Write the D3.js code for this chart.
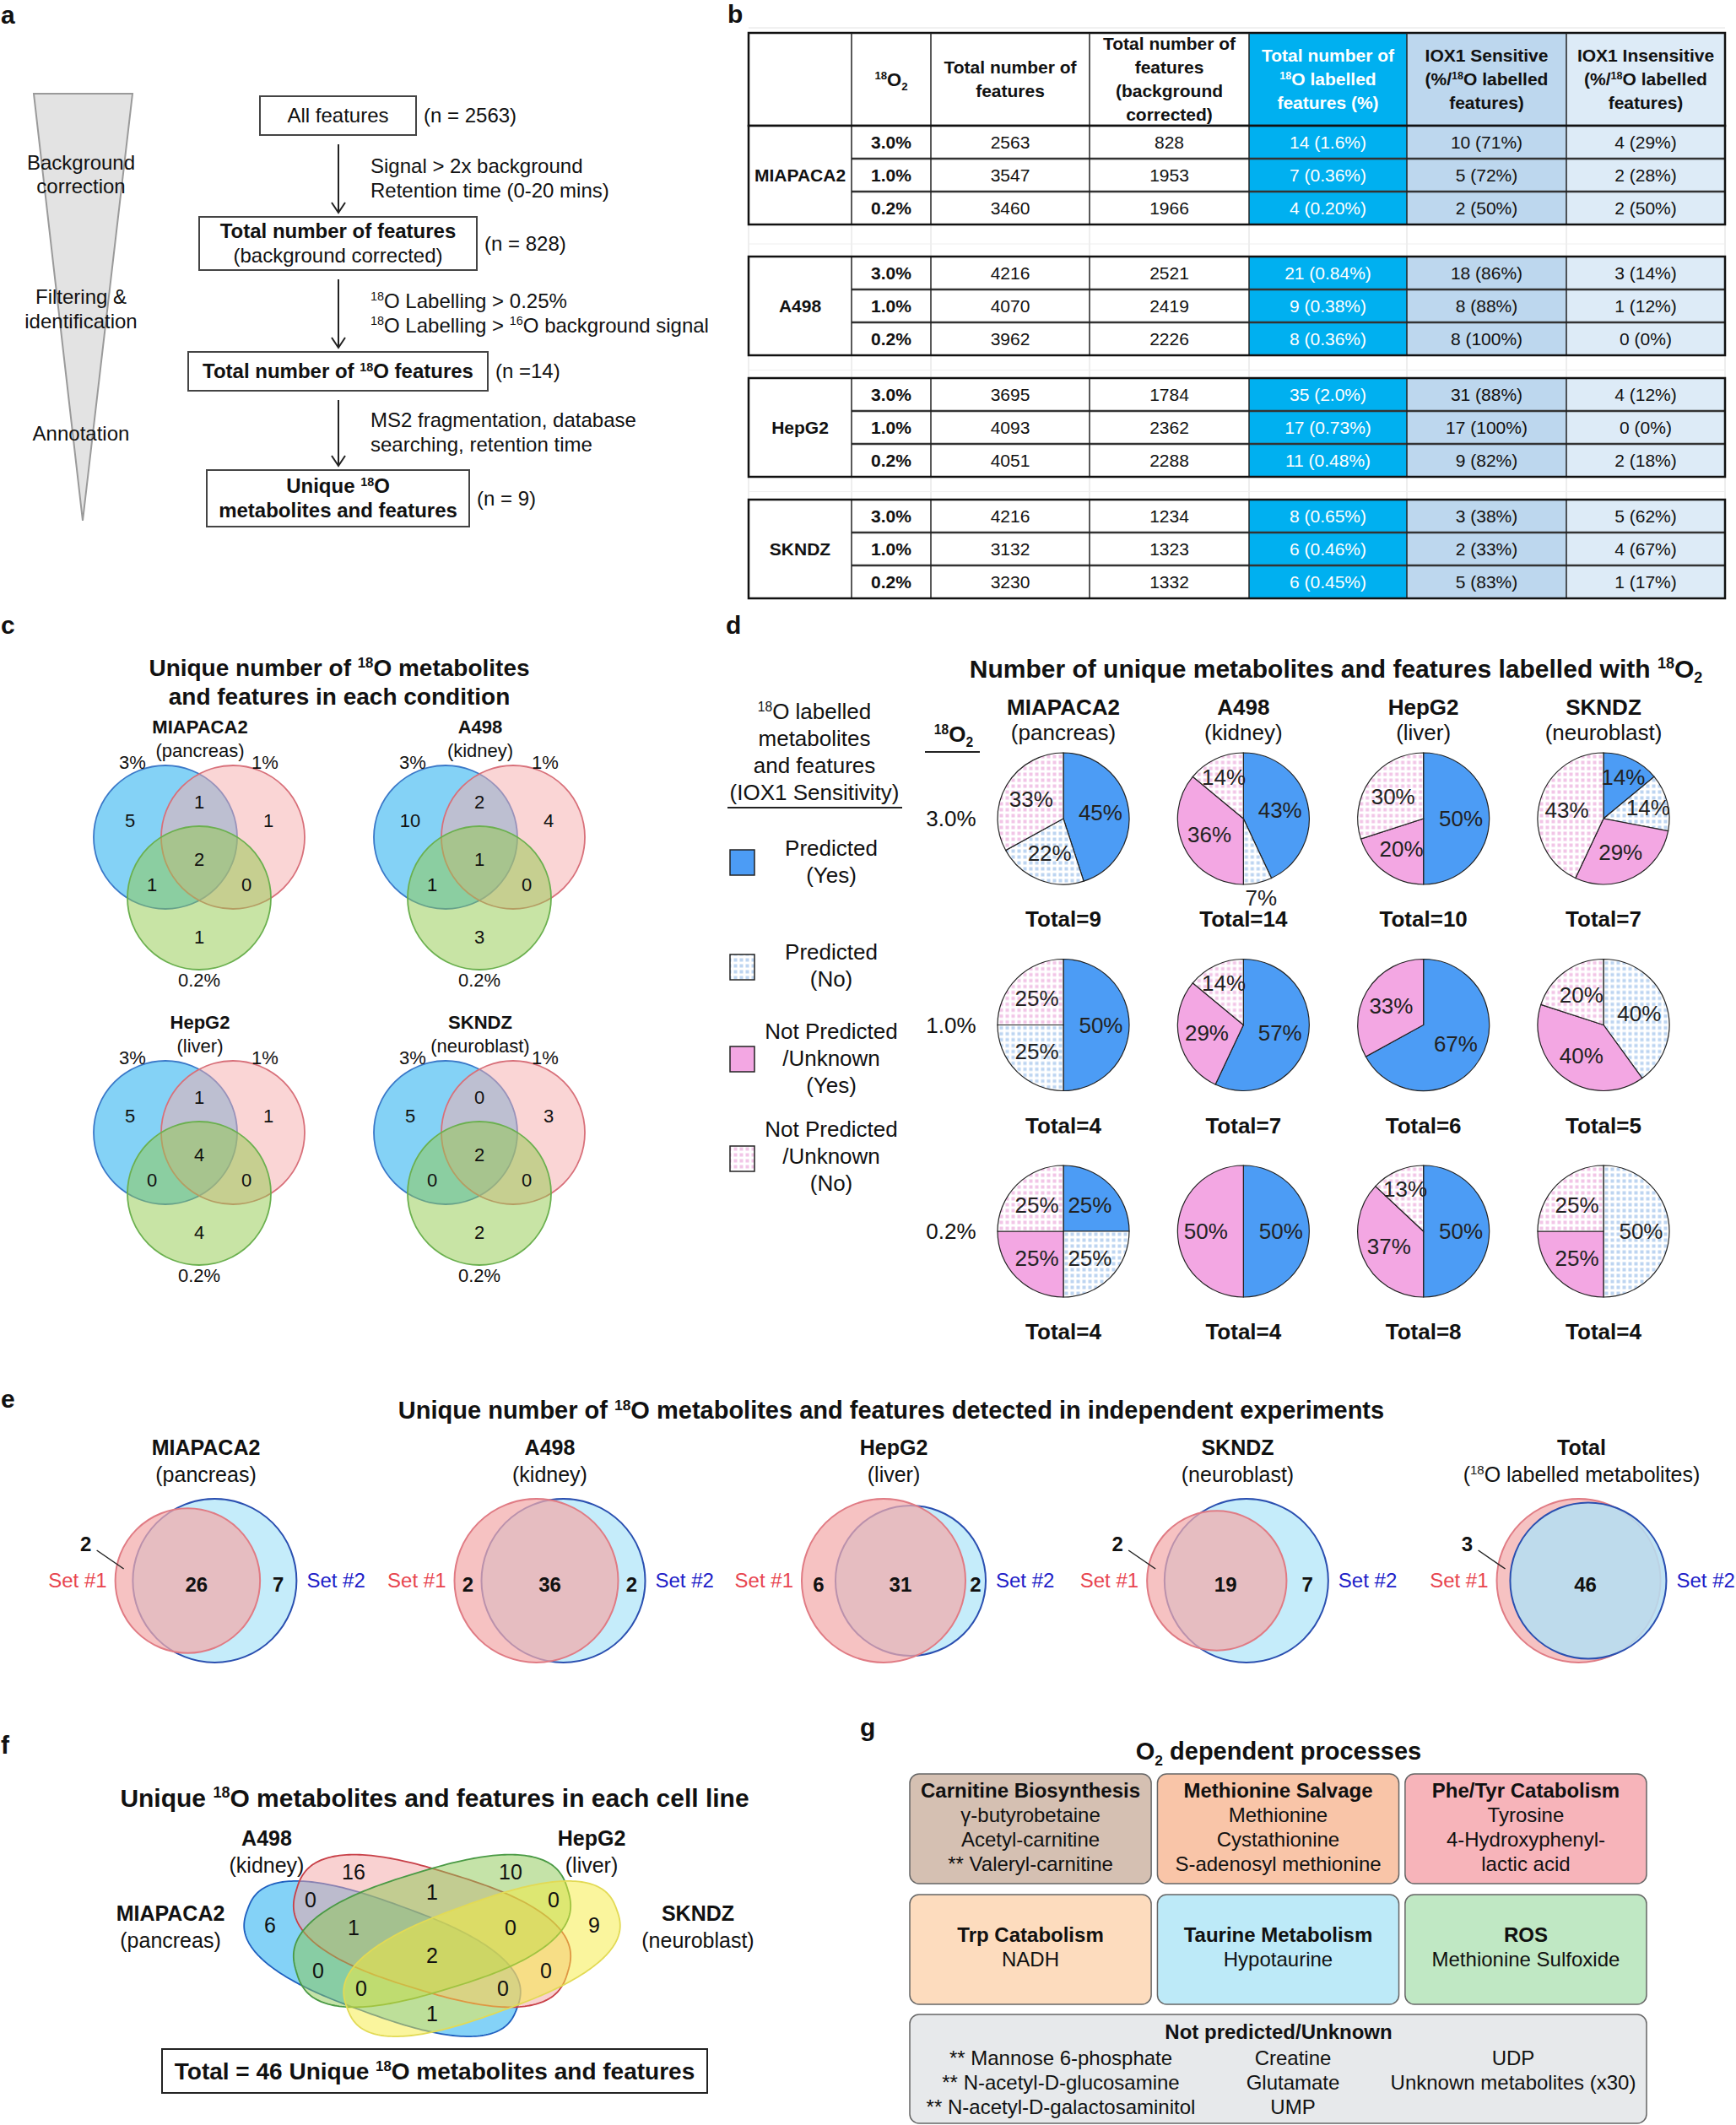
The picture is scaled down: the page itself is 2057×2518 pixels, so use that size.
<!DOCTYPE html>
<html>
<head>
<meta charset="utf-8">
<script src="https://cdn.jsdelivr.net/npm/d3@7"></script>
<style>
  body { margin: 0; background: #fff; }
  svg { display: block; font-family: "Liberation Sans", Arial, Helvetica, sans-serif; }
</style>
</head>
<body>
<div id="chart"></div>
<script>
// ---------------- data ----------------
// a: workflow
var flowBoxes = [['All features'], ['Total number of features', '(background corrected)'], ['Total number of ^{18}O features'], ['Unique ^{18}O', 'metabolites and features']]
var flowCounts = ['(n = 2563)', '(n = 828)', '(n =14)', '(n = 9)']
var flowCriteria = [['Signal > 2x background', 'Retention time (0-20 mins)'], ['^{18}O Labelling > 0.25%', '^{18}O Labelling > ^{16}O background signal'], ['MS2 fragmentation, database', 'searching, retention time']]
var flowStages = [['Background', 'correction'], ['Filtering &', 'identification'], ['Annotation']]

// b: table
var cellLines = ['MIAPACA2', 'A498', 'HepG2', 'SKNDZ']
var tissues = ['(pancreas)', '(kidney)', '(liver)', '(neuroblast)']
var o2Levels = ['3.0%', '1.0%', '0.2%']
var totalFeatures = [[2563, 3547, 3460], [4216, 4070, 3962], [3695, 4093, 4051], [4216, 3132, 3230]]
var correctedFeatures = [[828, 1953, 1966], [2521, 2419, 2226], [1784, 2362, 2288], [1234, 1323, 1332]]
var labelledCount = [[14, 7, 4], [21, 9, 8], [35, 17, 11], [8, 6, 6]]
var labelledPct = [['1.6%', '0.36%', '0.20%'], ['0.84%', '0.38%', '0.36%'], ['2.0%', '0.73%', '0.48%'], ['0.65%', '0.46%', '0.45%']]
var sensitiveCount = [[10, 5, 2], [18, 8, 8], [31, 17, 9], [3, 2, 5]]
var sensitivePct = [['71%', '72%', '50%'], ['86%', '88%', '100%'], ['88%', '100%', '82%'], ['38%', '33%', '83%']]
var insensitiveCount = [[4, 2, 2], [3, 1, 0], [4, 0, 2], [5, 4, 1]]
var insensitivePct = [['29%', '28%', '50%'], ['14%', '12%', '0%'], ['12%', '0%', '18%'], ['62%', '67%', '17%']]

// c: 3-set venn per cell line (A = 3%, B = 1%, C = 0.2%)
var venn3Keys = ['A', 'B', 'C', 'AB', 'AC', 'BC', 'ABC']
var venn3Counts = [[5, 1, 1, 1, 1, 0, 2], [10, 4, 3, 2, 1, 0, 1], [5, 1, 4, 1, 0, 0, 4], [5, 3, 2, 0, 0, 0, 2]]
var venn3SetLabels = ['3%', '1%', '0.2%']

// d: pies (% per category) and totals
var pieCategories = ['Predicted (Yes)', 'Predicted (No)', 'Not Predicted /Unknown (Yes)', 'Not Predicted /Unknown (No)']
var piePct = [
  [[45, 22, 0, 33], [50, 25, 0, 25], [25, 25, 25, 25]],
  [[43, 7, 36, 14], [57, 0, 29, 14], [50, 0, 50, 0]],
  [[50, 0, 20, 30], [67, 0, 33, 0], [50, 0, 37, 13]],
  [[14, 14, 29, 43], [0, 40, 40, 20], [0, 50, 25, 25]]
]
var pieTotals = [[9, 4, 4], [14, 7, 4], [10, 6, 8], [7, 5, 4]]

// e: two independent experiments
var expNames = ['MIAPACA2', 'A498', 'HepG2', 'SKNDZ', 'Total']
var expSubs = ['(pancreas)', '(kidney)', '(liver)', '(neuroblast)', '(^{18}O labelled metabolites)']
var set1Only = [2, 2, 6, 2, 3]
var setShared = [26, 36, 31, 19, 46]
var set2Only = [7, 2, 2, 7, 0]

// f: 4-set venn (M = MIAPACA2, A = A498, H = HepG2, S = SKNDZ)
var quadKeys = ['M', 'A', 'H', 'S', 'MA', 'AH', 'HS', 'MAH', 'AHS', 'MH', 'AS', 'MAHS', 'MHS', 'MAS', 'MS']
var quadCounts = [6, 16, 10, 9, 0, 1, 0, 1, 0, 0, 0, 2, 0, 0, 1]
var quadTotal = 46

// g: processes
var processNames = ['Carnitine Biosynthesis', 'Methionine Salvage', 'Phe/Tyr Catabolism', 'Trp Catabolism', 'Taurine Metabolism', 'ROS']
var processMetabolites = [['γ-butyrobetaine', 'Acetyl-carnitine', '** Valeryl-carnitine'], ['Methionine', 'Cystathionine', 'S-adenosyl methionine'], ['Tyrosine', '4-Hydroxyphenyl-', 'lactic acid'], ['NADH'], ['Hypotaurine'], ['Methionine Sulfoxide']]
var unknownCols = [['** Mannose 6-phosphate', '** N-acetyl-D-glucosamine', '** N-acetyl-D-galactosaminitol'], ['Creatine', 'Glutamate', 'UMP'], ['UDP', 'Unknown metabolites (x30)']]

// ---------------- helpers ----------------
var W = 2057, H = 2518
var svg = d3.select('#chart').append('svg').attr('width', W).attr('height', H)
svg.append('rect').attr('width', W).attr('height', H).attr('fill', '#fff')

// text with ^{sup} and _{sub} markup, y = baseline
function txt (parent, x, y, str, size, opt) {
  opt = opt || {}
  var t = parent.append('text').attr('x', x).attr('y', y)
    .attr('font-size', size)
    .attr('text-anchor', opt.anchor || 'middle')
    .attr('fill', opt.color || '#111')
  if (opt.bold) t.attr('font-weight', 'bold')
  var parts = str.split(/(\^\{[^}]*\}|_\{[^}]*\})/).filter(function (s) { return s.length })
  var shift = 0
  parts.forEach(function (p) {
    var target = 0, s = p, small = false
    if (p.indexOf('^{') === 0) { target = -0.36 * size; s = p.slice(2, -1); small = true }
    else if (p.indexOf('_{') === 0) { target = 0.22 * size; s = p.slice(2, -1); small = true }
    var ts = t.append('tspan').text(s)
    if (target - shift !== 0) ts.attr('dy', target - shift)
    if (small) ts.attr('font-size', size * 0.6)
    shift = target
  })
  return t
}
// same, y = visual centre
function txtC (parent, x, yc, str, size, opt) { return txt(parent, x, yc + 0.35 * size, str, size, opt) }

// best label spot per region: point with max distance to every boundary
function regionSpots (shapes, x0, y0, x1, y1, step) {
  var best = {}
  for (var y = y0; y <= y1; y += step) {
    for (var x = x0; x <= x1; x += step) {
      var k = '', m = Infinity
      shapes.forEach(function (s) {
        if (s.inside(x, y)) k += s.key
        m = Math.min(m, s.dist(x, y))
      })
      if (!k) continue
      if (!best[k] || m > best[k].m) best[k] = { x: x, y: y, m: m }
    }
  }
  return best
}
function circleShape (key, cx, cy, r) {
  return {
    key: key,
    inside: function (x, y) { return (x - cx) * (x - cx) + (y - cy) * (y - cy) < r * r },
    dist: function (x, y) { return Math.abs(Math.hypot(x - cx, y - cy) - r) }
  }
}
// rotated superellipse |u/a|^n + |v/b|^n = 1 (capsule-like for n > 2)
function blobShape (key, cx, cy, a, b, deg, n) {
  var th = deg * Math.PI / 180, c = Math.cos(th), s = Math.sin(th)
  var pts = d3.range(0, 2 * Math.PI, Math.PI / 120).map(function (t) {
    var ct = Math.cos(t), st = Math.sin(t)
    var u = a * Math.sign(ct) * Math.pow(Math.abs(ct), 2 / n), v = b * Math.sign(st) * Math.pow(Math.abs(st), 2 / n)
    return [cx + u * c - v * s, cy + u * s + v * c]
  })
  return {
    key: key,
    pts: pts,
    inside: function (x, y) {
      var dx = x - cx, dy = y - cy, u = dx * c + dy * s, v = -dx * s + dy * c
      return Math.pow(Math.abs(u / a), n) + Math.pow(Math.abs(v / b), n) < 1
    },
    dist: function (x, y) {
      var m = Infinity
      for (var i = 0; i < pts.length; i++) m = Math.min(m, (pts[i][0] - x) * (pts[i][0] - x) + (pts[i][1] - y) * (pts[i][1] - y))
      return Math.sqrt(m)
    }
  }
}

// panel letters
;[['a', 1, 28], ['b', 862, 27], ['c', 1, 751], ['d', 860, 751], ['e', 1, 1668], ['f', 1, 2078], ['g', 1019, 2057]].forEach(function (p) {
  txt(svg, p[1], p[2], p[0], 30, { bold: true, anchor: 'start' })
})

// ---------------- panel a ----------------
var ga = svg.append('g')
ga.append('path').attr('d', 'M40,111L157,111L98,617Z').attr('fill', '#e3e3e3').attr('stroke', '#9a9a9a').attr('stroke-width', 2)
var stageY = [[193, 221], [352, 381], [514]]
flowStages.forEach(function (lines, i) {
  lines.forEach(function (l, j) { txtC(ga, 96, stageY[i][j], l, 24) })
})
var boxGeom = [[308, 114, 493, 160], [236, 257, 565, 320], [223, 417, 578, 463], [245, 557, 556, 624]]
var boxBold = [[false], [true, false], [true], [true, true]]
flowBoxes.forEach(function (lines, i) {
  var b = boxGeom[i], cy = (b[1] + b[3]) / 2, cx = (b[0] + b[2]) / 2
  ga.append('rect').attr('x', b[0]).attr('y', b[1]).attr('width', b[2] - b[0]).attr('height', b[3] - b[1])
    .attr('fill', '#fff').attr('stroke', '#444').attr('stroke-width', 2)
  lines.forEach(function (l, j) {
    txtC(ga, cx, cy + (j - (lines.length - 1) / 2) * 29, l, 24, { bold: boxBold[i][j] })
  })
  txtC(ga, b[2] + 9, cy, flowCounts[i], 24, { anchor: 'start' })
  if (i < 3) {
    var y0 = b[3] + 11, y1 = boxGeom[i + 1][1] - 5
    ga.append('line').attr('x1', 401).attr('x2', 401).attr('y1', y0).attr('y2', y1).attr('stroke', '#222').attr('stroke-width', 2)
    ga.append('polyline').attr('points', [[393, y1 - 12], [401, y1], [409, y1 - 12]].join(' '))
      .attr('fill', 'none').attr('stroke', '#222').attr('stroke-width', 2)
    flowCriteria[i].forEach(function (l, j) {
      txtC(ga, 439, (y0 + y1) / 2 - 15 + j * 29, l, 24, { anchor: 'start' })
    })
  }
})

// ---------------- panel b ----------------
var gb = svg.append('g')
var colX = [887, 1009, 1103, 1291, 1480, 1667, 1856, 2044]
var headTop = 39, headBot = 149, rowH = 39
var groupTop = [149, 304, 448, 592]
var colFill = ['#fff', '#fff', '#fff', '#fff', '#00b0f0', '#bdd7ee', '#ddebf7']
var colText = ['#111', '#111', '#111', '#111', '#fff', '#111', '#111']
var headLines = [[], ['^{18}O_{2}'], ['Total number of', 'features'], ['Total number of', 'features', '(background', 'corrected)'],
  ['Total number of', '^{18}O labelled', 'features (%)'], ['IOX1 Sensitive', '(%/^{18}O labelled', 'features)'], ['IOX1 Insensitive', '(%/^{18}O labelled', 'features)']]
// faint spreadsheet grid
gb.append('line').attr('x1', colX[0]).attr('x2', colX[7]).attr('y1', 33).attr('y2', 33).attr('stroke', '#e2e2e2')
groupTop.forEach(function (gt, g) {
  if (g === 0) return
  var top = groupTop[g - 1] + 3 * rowH
  colX.forEach(function (x) {
    gb.append('line').attr('x1', x).attr('x2', x).attr('y1', top).attr('y2', gt).attr('stroke', '#dcdcdc')
  })
  gb.append('line').attr('x1', colX[0]).attr('x2', colX[7]).attr('y1', (top + gt) / 2 + 4).attr('y2', (top + gt) / 2 + 4).attr('stroke', '#eeeeee')
})
// header
d3.range(7).forEach(function (c) {
  gb.append('rect').attr('x', colX[c]).attr('y', headTop).attr('width', colX[c + 1] - colX[c]).attr('height', headBot - headTop).attr('fill', colFill[c])
  var lines = headLines[c], mid = (headTop + headBot) / 2
  lines.forEach(function (l, j) {
    txtC(gb, (colX[c] + colX[c + 1]) / 2, mid + (j - (lines.length - 1) / 2) * 28, l, c === 1 ? 22 : 21, { bold: true, color: colText[c] })
  })
})
gb.append('rect').attr('x', colX[0]).attr('y', headTop).attr('width', colX[7] - colX[0]).attr('height', headBot - headTop)
  .attr('fill', 'none').attr('stroke', '#111').attr('stroke-width', 2.5)
colX.slice(1, 7).forEach(function (x) {
  gb.append('line').attr('x1', x).attr('x2', x).attr('y1', headTop).attr('y2', headBot).attr('stroke', '#222').attr('stroke-width', 1.5)
})
// groups
cellLines.forEach(function (name, g) {
  var gt = groupTop[g]
  o2Levels.forEach(function (lev, r) {
    var y = gt + r * rowH
    var vals = [null, lev, totalFeatures[g][r], correctedFeatures[g][r],
      labelledCount[g][r] + ' (' + labelledPct[g][r] + ')',
      sensitiveCount[g][r] + ' (' + sensitivePct[g][r] + ')',
      insensitiveCount[g][r] + ' (' + insensitivePct[g][r] + ')']
    d3.range(7).forEach(function (c) {
      gb.append('rect').attr('x', colX[c]).attr('y', y).attr('width', colX[c + 1] - colX[c]).attr('height', rowH).attr('fill', colFill[c])
      if (vals[c] !== null) txtC(gb, (colX[c] + colX[c + 1]) / 2, y + rowH / 2, String(vals[c]), 21, { bold: c === 1, color: colText[c] })
    })
  })
  txtC(gb, (colX[0] + colX[1]) / 2, gt + 1.5 * rowH, name, 21, { bold: true })
  ;[1, 2].forEach(function (r) {
    gb.append('line').attr('x1', colX[1]).attr('x2', colX[7]).attr('y1', gt + r * rowH).attr('y2', gt + r * rowH).attr('stroke', '#333').attr('stroke-width', 2.5)
  })
  colX.slice(1, 7).forEach(function (x) {
    gb.append('line').attr('x1', x).attr('x2', x).attr('y1', gt).attr('y2', gt + 3 * rowH).attr('stroke', '#222').attr('stroke-width', 1.5)
  })
  gb.append('rect').attr('x', colX[0]).attr('y', gt).attr('width', colX[7] - colX[0]).attr('height', 3 * rowH)
    .attr('fill', 'none').attr('stroke', '#111').attr('stroke-width', 2.5)
})

// ---------------- panel c ----------------
var gc = svg.append('g')
txtC(gc, 402, 791, 'Unique number of ^{18}O metabolites', 28, { bold: true })
txtC(gc, 402, 825, 'and features in each condition', 28, { bold: true })
var vx = d3.scalePoint().domain([0, 1]).range([236, 568])
var vy = d3.scalePoint().domain([0, 1]).range([1016, 1366])
var c3Off = [[-40, -24], [40, -24], [0, 48]], c3R = 85
var c3Fill = ['#0aa6ee', '#f5acac', '#91c94b'], c3Stroke = ['#3a78c8', '#d8707a', '#6bb04f']
var c3LabOff = [[-79, -113], [78, -113], [0, 145]]
cellLines.forEach(function (name, i) {
  var cx = vx(i % 2), cy = vy(Math.floor(i / 2))
  txtC(gc, cx + 1, cy - 155, name, 22, { bold: true })
  txtC(gc, cx + 1, cy - 127, tissues[i], 22)
  var shapes = c3Off.map(function (o, k) {
    gc.append('circle').attr('cx', cx + o[0]).attr('cy', cy + o[1]).attr('r', c3R)
      .attr('fill', c3Fill[k]).attr('fill-opacity', 0.5).attr('stroke', c3Stroke[k]).attr('stroke-width', 1.8)
    txtC(gc, cx + c3LabOff[k][0], cy + c3LabOff[k][1], venn3SetLabels[k], 22)
    return circleShape('ABC'[k], cx + o[0], cy + o[1], c3R)
  })
  var spots = regionSpots(shapes, cx - 140, cy - 120, cx + 140, cy + 140, 2)
  venn3Keys.forEach(function (k, j) {
    if (spots[k]) txtC(gc, spots[k].x, spots[k].y, String(venn3Counts[i][j]), 22)
  })
})

// ---------------- panel d ----------------
var gd = svg.append('g')
var defs = svg.append('defs')
function dotPattern (id, col) {
  var p = defs.append('pattern').attr('id', id).attr('width', 7).attr('height', 7).attr('patternUnits', 'userSpaceOnUse')
  p.append('rect').attr('width', 7).attr('height', 7).attr('fill', '#fff')
  p.append('rect').attr('x', 1.5).attr('y', 1.5).attr('width', 4).attr('height', 4).attr('fill', col)
}
dotPattern('dotBlue', '#bed5f1')
dotPattern('dotPink', '#f2c6e7')
var pieFill = ['#4c9cf5', 'url(#dotBlue)', '#f3a7e3', 'url(#dotPink)']
var pieR = 78
var px = d3.scalePoint().domain(cellLines).range([1260, 1900])
var py = d3.scalePoint().domain(o2Levels).range([970, 1459])
txtC(gd, 1583, 792, 'Number of unique metabolites and features labelled with ^{18}O_{2}', 30, { bold: true })
// legend
;['^{18}O labelled', 'metabolites', 'and features', '(IOX1 Sensitivity)'].forEach(function (l, j) {
  txtC(gd, 965, 843 + j * 32, l, 26)
})
gd.append('line').attr('x1', 862).attr('x2', 1069).attr('y1', 957).attr('y2', 957).attr('stroke', '#222').attr('stroke-width', 2)
var legTop = [1007, 1131, 1240, 1358]
var legLines = [['Predicted', '(Yes)'], ['Predicted', '(No)'], ['Not Predicted', '/Unknown', '(Yes)'], ['Not Predicted', '/Unknown', '(No)']]
var legTextY = [1005, 1128, 1222, 1338]
pieCategories.forEach(function (cat, k) {
  gd.append('rect').attr('x', 865).attr('y', legTop[k]).attr('width', 29).attr('height', 30)
    .attr('fill', pieFill[k]).attr('stroke', '#222').attr('stroke-width', 1.5)
  legLines[k].forEach(function (l, j) { txtC(gd, 985, legTextY[k] + j * 32, l, 26) })
})
txtC(gd, 1130, 870, '^{18}O_{2}', 26, { bold: true })
gd.append('line').attr('x1', 1096).attr('x2', 1161).attr('y1', 891).attr('y2', 891).attr('stroke', '#222').attr('stroke-width', 2)
cellLines.forEach(function (name, i) {
  txtC(gd, px(name), 838, name, 26, { bold: true })
  txtC(gd, px(name), 868, tissues[i], 26)
})
o2Levels.forEach(function (lev) { txtC(gd, 1127, py(lev), lev, 26) })
var pie = d3.pie().sort(null).value(function (d) { return d })
var arc = d3.arc().innerRadius(0).outerRadius(pieR)
cellLines.forEach(function (name, i) {
  o2Levels.forEach(function (lev, r) {
    var g = gd.append('g').attr('transform', 'translate(' + px(name) + ',' + py(lev) + ')')
    var slices = pie(piePct[i][r]).filter(function (s) { return s.value > 0 })
    g.selectAll('path').data(slices).enter().append('path')
      .attr('d', arc).attr('fill', function (d) { return pieFill[d.index] })
      .attr('stroke', '#222').attr('stroke-width', 1.2)
    slices.forEach(function (s) {
      var a = (s.startAngle + s.endAngle) / 2
      var f = s.value < 10 ? 1.23 : (s.value <= 15 ? 0.7 : 0.57)
      txtC(g, Math.sin(a) * pieR * f, -Math.cos(a) * pieR * f, s.value + '%', 26, { color: '#222' })
    })
    txtC(gd, px(name), py(lev) + 119, 'Total=' + pieTotals[i][r], 26, { bold: true })
  })
})

// ---------------- panel e ----------------
var ge = svg.append('g')
txtC(ge, 1056, 1671, 'Unique number of ^{18}O metabolites and features detected in independent experiments', 29, { bold: true })
var ex = d3.scalePoint().domain(expNames).range([244, 1874])
var eCy = 1873
expNames.forEach(function (name, i) {
  var col = ex(name)
  txtC(ge, col, 1715, name, 25, { bold: true })
  txtC(ge, col, 1747, expSubs[i], 25)
  var n1 = set1Only[i] + setShared[i], n2 = set2Only[i] + setShared[i]
  var rs = d3.scalePow().exponent(0.75).domain([0, Math.max(n1, n2)]).range([0, 97])
  var r1 = rs(n1), r2 = rs(n2)
  var d = Math.max(Math.abs(r1 - r2) + 2.3 * (set1Only[i] + set2Only[i]), 16 * Math.min(set1Only[i], set2Only[i]))
  var c1 = col + r1 - (d + r1 + r2) / 2, c2 = c1 + d
  var blueTop = set2Only[i] === 0
  var circles = [
    { cx: c2, r: r2, fill: blueTop ? '#b6def1' : '#8cd9f5', op: blueTop ? 0.88 : 0.5, stroke: '#2a4fb0' },
    { cx: c1, r: r1, fill: '#f2abab', op: 0.72, stroke: '#e07b84' }
  ]
  if (blueTop) circles.reverse()
  circles.forEach(function (c) {
    ge.append('circle').attr('cx', c.cx).attr('cy', eCy).attr('r', c.r)
      .attr('fill', c.fill).attr('fill-opacity', c.op).attr('stroke', c.stroke).attr('stroke-width', 2)
  })
  var left1 = c1 - r1, left2 = c2 - r2
  var lensL = Math.max(left1, left2), lensR = Math.min(c1 + r1, c2 + r2)
  txtC(ge, (lensL + lensR) / 2, eCy + 5, String(setShared[i]), 24, { bold: true })
  if (left2 - left1 >= 25) {
    txtC(ge, (left1 + left2) / 2, eCy + 5, String(set1Only[i]), 24, { bold: true })
  } else {
    txtC(ge, left1 - 35, eCy - 43, String(set1Only[i]), 24, { bold: true })
    ge.append('line').attr('x1', left1 - 22).attr('y1', eCy - 36).attr('x2', left1 + 10).attr('y2', eCy - 14)
      .attr('stroke', '#222').attr('stroke-width', 1.5)
  }
  if (set2Only[i] > 0) txtC(ge, (lensR + c2 + r2) / 2, eCy + 5, String(set2Only[i]), 24, { bold: true })
  txtC(ge, left1 - 10, eCy, 'Set #1', 24, { anchor: 'end', color: '#e8454f' })
  txtC(ge, Math.max(c1 + r1, c2 + r2) + 12, eCy, 'Set #2', 24, { anchor: 'start', color: '#2020c8' })
})

// ---------------- panel f ----------------
var gf = svg.append('g')
txtC(gf, 515, 2130, 'Unique ^{18}O metabolites and features in each cell line', 30, { bold: true })
var fc = [512, 2288]
var quadShapes = [
  { key: 'M', cx: fc[0] - 59, cy: fc[1] + 33, a: 170, b: 66, deg: 20, fill: '#0aa5ef', stroke: '#1f5fbf' },
  { key: 'A', cx: fc[0], cy: fc[1], a: 168, b: 71, deg: 17, fill: '#f4a3a3', stroke: '#c84048' },
  { key: 'H', cx: fc[0], cy: fc[1], a: 168, b: 71, deg: -17, fill: '#8cc751', stroke: '#4a9a45' },
  { key: 'S', cx: fc[0] + 59, cy: fc[1] + 33, a: 170, b: 66, deg: -20, fill: '#f5ec3c', stroke: '#e2da55' }
].map(function (s) {
  s.shape = blobShape(s.key, s.cx, s.cy, s.a, s.b, s.deg, 2.6)
  return s
})
var closedLine = d3.line().curve(d3.curveLinearClosed)
quadShapes.forEach(function (s) {
  gf.append('path').attr('d', closedLine(s.shape.pts))
    .attr('fill', s.fill).attr('fill-opacity', 0.5).attr('stroke', s.stroke).attr('stroke-width', 1.8)
})
var fSpots = regionSpots(quadShapes.map(function (s) { return s.shape }),
  fc[0] - 240, fc[1] - 100, fc[0] + 240, fc[1] + 130, 3)
quadKeys.forEach(function (k, j) {
  if (fSpots[k]) txtC(gf, fSpots[k].x, fSpots[k].y, String(quadCounts[j]), 25)
})
var fNameOff = [[-310, -21], [-196, -110], [189, -110], [315, -21]]
;[0, 1, 2, 3].forEach(function (i) {
  txtC(gf, fc[0] + fNameOff[i][0], fc[1] + fNameOff[i][1], cellLines[i], 25, { bold: true })
  txtC(gf, fc[0] + fNameOff[i][0], fc[1] + fNameOff[i][1] + 32, tissues[i], 25)
})
gf.append('rect').attr('x', 192).attr('y', 2428).attr('width', 646).attr('height', 52)
  .attr('fill', '#fff').attr('stroke', '#222').attr('stroke-width', 2)
txtC(gf, 515, 2454, 'Total = ' + quadTotal + ' Unique ^{18}O metabolites and features', 28, { bold: true })

// ---------------- panel g ----------------
var gg = svg.append('g')
txtC(gg, 1515, 2075, 'O_{2} dependent processes', 29, { bold: true })
var bx = d3.scaleBand().domain([0, 1, 2]).range([1078, 1951]).paddingInner(0.025)
var rowTops = [2102, 2245], boxH = 130
var procColors = ['#d5c0b2', '#f9c5a8', '#f7b4ba', '#fddcbe', '#bdeaf8', '#c0e8c4']
processNames.forEach(function (name, i) {
  var col = i % 3, row = Math.floor(i / 3), x = bx(col), top = rowTops[row]
  gg.append('rect').attr('x', x).attr('y', top).attr('width', bx.bandwidth()).attr('height', boxH)
    .attr('rx', 11).attr('fill', procColors[i]).attr('stroke', '#666').attr('stroke-width', 1.5)
  var cx = x + bx.bandwidth() / 2
  var items = processMetabolites[i]
  var y0 = items.length > 1 ? top + 20 : top + 48
  txtC(gg, cx, y0, name, 24, { bold: true })
  items.forEach(function (m, j) { txtC(gg, cx, y0 + 29 * (j + 1), m, 24) })
})
gg.append('rect').attr('x', 1078).attr('y', 2387).attr('width', 873).attr('height', 129)
  .attr('rx', 11).attr('fill', '#e7e9eb').attr('stroke', '#666').attr('stroke-width', 1.5)
txtC(gg, 1515, 2408, 'Not predicted/Unknown', 24, { bold: true })
var ux = [1257, 1532, 1793]
unknownCols.forEach(function (col, c) {
  col.forEach(function (m, j) { txtC(gg, ux[c], 2439 + j * 29, m, 24) })
})
</script>
</body>
</html>
